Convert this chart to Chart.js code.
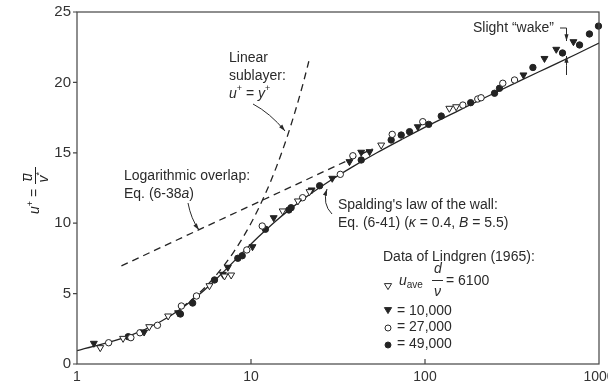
<!DOCTYPE html>
<html>
<head>
<meta charset="utf-8">
<script src="https://cdn.jsdelivr.net/npm/chart.js@4.4.0/dist/chart.umd.min.js"></script>
<style>
    html, body { margin: 0; padding: 0; background: #fff; }
</style>
</head>
<body>
<canvas id="wallChart" width="608" height="387"></canvas>
<script>
// axis ticks
const xTicks = [1, 10, 100, 1000];
const yTicks = [0, 5, 10, 15, 20, 25];

// Spalding's law of the wall (solid)
const spaldingYPlus = [1, 2, 3.01, 4.04, 5.12, 6.27, 7.56, 9.08, 10.97, 13.43, 16.78, 21.5, 28.3, 38.3, 52.9, 74.8, 107, 156, 228, 336, 498, 739, 1000];
const spaldingU = [0.95, 2, 3, 4, 5, 6, 7, 8, 9, 10, 11, 12, 13, 14, 15, 16, 17, 18, 19, 20, 21, 22, 22.8];

// linear sublayer (dashed)
const linearYPlus = [4, 5, 6, 7, 8, 10, 12, 14, 16, 18, 20, 21.5];
const linearU = [4, 5, 6, 7, 8, 10, 12, 14, 16, 18, 20, 21.5];

// logarithmic overlap (dashed)
const logYPlus = [1.8, 50];
const logU = [6.97, 15.28];

// Lindgren (1965) data
const re6100YPlus = [1.36, 1.84, 2.60, 3.34, 5.77, 7.04, 7.69, 15.2, 18.6, 21.7, 56.0, 138, 151];
const re6100U = [1.16, 1.82, 2.65, 3.41, 5.56, 6.25, 6.32, 10.87, 11.58, 12.24, 15.55, 18.16, 18.27];

const re10000YPlus = [1.25, 2.43, 3.81, 6.89, 7.36, 10.2, 13.5, 22.3, 29.3, 36.8, 43.0, 48.0, 90.9, 368, 486, 568, 713];
const re10000U = [1.47, 2.27, 3.64, 6.37, 6.87, 8.33, 10.39, 12.36, 13.19, 14.37, 15.04, 15.08, 16.85, 20.53, 21.70, 22.35, 22.89];

const re27000YPlus = [1.52, 2.04, 2.30, 2.90, 3.98, 4.86, 9.46, 11.6, 19.8, 32.6, 38.5, 64.8, 97.1, 165, 201, 210, 280, 327];
const re27000U = [1.51, 1.87, 2.22, 2.75, 4.12, 4.83, 8.10, 9.80, 11.81, 13.47, 14.79, 16.31, 17.21, 18.39, 18.82, 18.91, 19.94, 20.17];

const re49000YPlus = [1.97, 3.93, 4.62, 6.17, 8.40, 8.90, 12.1, 16.5, 17.0, 24.8, 43.0, 63.9, 73.0, 81.5, 105, 124, 183, 251, 268, 417, 617, 773, 881, 993];
const re49000U = [1.94, 3.55, 4.33, 5.97, 7.51, 7.69, 9.57, 10.94, 11.10, 12.66, 14.49, 15.91, 16.26, 16.50, 17.02, 17.61, 18.56, 19.23, 19.58, 21.06, 22.09, 22.66, 23.44, 24.0];

const INK = '#232323';
const FONT = '"Liberation Sans", Arial, sans-serif';

const toPoints = (xs, ys) => xs.map((x, i) => ({ x: x, y: ys[i] }));

function font(size, italic) {
    return (italic ? 'italic ' : '') + size + 'px ' + FONT;
}

// draws a row of text pieces, some italic, some superscript/subscript
function drawRuns(ctx, x, y, runs) {
    runs.forEach(r => {
        const size = r.size || 14;
        ctx.font = font(size, r.i);
        ctx.fillText(r.t, x, y + (r.dy || 0));
        x += ctx.measureText(r.t).width + (r.gap || 0);
    });
    return x;
}

function drawArrow(ctx, x0, y0, cx, cy, x1, y1) {
    ctx.beginPath();
    ctx.moveTo(x0, y0);
    ctx.quadraticCurveTo(cx, cy, x1, y1);
    ctx.stroke();
    const a = Math.atan2(y1 - cy, x1 - cx);
    const h = 7;
    ctx.beginPath();
    ctx.moveTo(x1, y1);
    ctx.lineTo(x1 - h * Math.cos(a - 0.3), y1 - h * Math.sin(a - 0.3));
    ctx.lineTo(x1 - h * Math.cos(a + 0.3), y1 - h * Math.sin(a + 0.3));
    ctx.closePath();
    ctx.fill();
}

function drawMarker(ctx, kind, x, y) {
    ctx.beginPath();
    if (kind === 'tri') {
        ctx.moveTo(x - 3.6, y - 2.4);
        ctx.lineTo(x + 3.6, y - 2.4);
        ctx.lineTo(x, y + 3.6);
        ctx.closePath();
    } else {
        ctx.arc(x, y, 3, 0, Math.PI * 2);
    }
}

const framePlugin = {
    id: 'frame',
    afterDraw(chart) {
        const ctx = chart.ctx;
        const area = chart.chartArea;
        const xs = chart.scales.x;
        const ys = chart.scales.y;
        ctx.save();
        ctx.strokeStyle = '#444';
        ctx.fillStyle = INK;
        ctx.lineWidth = 1.2;
        ctx.strokeRect(area.left, area.top, area.right - area.left, area.bottom - area.top);

        // tick marks
        ctx.beginPath();
        yTicks.forEach(v => {
            const py = ys.getPixelForValue(v);
            ctx.moveTo(area.left - 4, py);
            ctx.lineTo(area.left, py);
        });
        [10, 100].forEach(v => {
            const px = xs.getPixelForValue(v);
            ctx.moveTo(px, area.bottom);
            ctx.lineTo(px, area.bottom - 5);
        });
        ctx.stroke();

        // y axis title: u+ = u-bar / v*
        ctx.save();
        ctx.translate(39, 214);
        ctx.rotate(-Math.PI / 2);
        ctx.textBaseline = 'alphabetic';
        ctx.textAlign = 'left';
        let x = drawRuns(ctx, 0, 0, [
            { t: 'u', i: true },
            { t: '+', size: 9, dy: -6 },
            { t: ' = ' }
        ]);
        ctx.font = font(14, true);
        ctx.fillText('u', x + 4, -7);
        ctx.lineWidth = 1;
        ctx.strokeStyle = INK;
        ctx.beginPath();
        ctx.moveTo(x + 4, -15.5); ctx.lineTo(x + 11.5, -15.5);
        ctx.moveTo(x + 1, -3.5); ctx.lineTo(x + 18, -3.5);
        ctx.stroke();
        drawRuns(ctx, x + 2.5, 9, [
            { t: 'v', i: true },
            { t: '*', size: 9, dy: -6 }
        ]);
        ctx.restore();

        ctx.fillStyle = '#2a2a2a';
        ctx.strokeStyle = '#2a2a2a';
        ctx.lineWidth = 1;
        ctx.textBaseline = 'middle';
        ctx.textAlign = 'left';

        // linear sublayer label
        drawRuns(ctx, 229, 58, [{ t: 'Linear' }]);
        drawRuns(ctx, 229, 76, [{ t: 'sublayer:' }]);
        drawRuns(ctx, 229, 94, [
            { t: 'u', i: true }, { t: '+', size: 9, dy: -5 },
            { t: ' = ' },
            { t: 'y', i: true }, { t: '+', size: 9, dy: -5 }
        ]);
        drawArrow(ctx, 253, 104, 270, 113, 285, 131);

        // log overlap label
        drawRuns(ctx, 124, 176, [{ t: 'Logarithmic overlap:' }]);
        drawRuns(ctx, 124, 194, [{ t: 'Eq. (6-38' }, { t: 'a', i: true }, { t: ')' }]);
        drawArrow(ctx, 188, 203, 191, 219, 199, 230);

        // Spalding label
        drawRuns(ctx, 338, 205, [{ t: "Spalding's law of the wall:" }]);
        drawRuns(ctx, 338, 223, [
            { t: 'Eq. (6-41) (' }, { t: 'κ', i: true }, { t: ' = 0.4, ' },
            { t: 'B', i: true }, { t: ' = 5.5)' }
        ]);
        drawArrow(ctx, 332, 214, 322, 204, 327, 189);

        // data legend
        drawRuns(ctx, 383, 257, [{ t: 'Data of Lindgren (1965):' }]);
        ctx.lineWidth = 1;
        drawMarker(ctx, 'tri', 388, 286); ctx.fillStyle = '#fff'; ctx.fill(); ctx.stroke();
        drawMarker(ctx, 'tri', 388, 310); ctx.fillStyle = INK; ctx.fill(); ctx.stroke();
        drawMarker(ctx, 'circle', 388, 328); ctx.fillStyle = '#fff'; ctx.fill(); ctx.stroke();
        drawMarker(ctx, 'circle', 388, 345); ctx.fillStyle = INK; ctx.fill(); ctx.stroke();
        ctx.fillStyle = '#2a2a2a';
        drawRuns(ctx, 399, 281, [{ t: 'u', i: true }, { t: 'ave', size: 10, dy: 4 }]);
        ctx.font = font(14, true);
        ctx.fillText('d', 434, 269);
        ctx.fillText('ν', 434, 292);
        ctx.beginPath();
        ctx.moveTo(432, 280.5); ctx.lineTo(443, 280.5);
        ctx.stroke();
        drawRuns(ctx, 446, 281, [{ t: '= 6100' }]);
        drawRuns(ctx, 397, 311, [{ t: '= 10,000' }]);
        drawRuns(ctx, 397, 327, [{ t: '= 27,000' }]);
        drawRuns(ctx, 397, 344, [{ t: '= 49,000' }]);

        // slight wake
        drawRuns(ctx, 473, 28, [{ t: 'Slight \u201cwake\u201d' }]);
        ctx.beginPath();
        ctx.moveTo(560, 28); ctx.lineTo(566.5, 28); ctx.lineTo(566.5, 36);
        ctx.stroke();
        drawArrow(ctx, 566.5, 34, 566.5, 37, 566.5, 41);
        drawArrow(ctx, 566.5, 75, 566.5, 66, 566.5, 56);
        ctx.restore();
    }
};

document.addEventListener('DOMContentLoaded', () => {
    const ctx = document.getElementById('wallChart').getContext('2d');

    const pointSet = (label, xs, ys, style, filled) => ({
        label: label,
        data: toPoints(xs, ys),
        showLine: false,
        pointStyle: style,
        rotation: style === 'triangle' ? 180 : 0,
        pointRadius: style === 'triangle' ? 4 : 3.2,
        pointBorderWidth: 1,
        pointBackgroundColor: filled ? INK : '#fff',
        pointBorderColor: INK,
        clip: false
    });

    const lineSet = (label, xs, ys, dashed) => ({
        label: label,
        data: toPoints(xs, ys),
        showLine: true,
        pointRadius: 0,
        borderColor: INK,
        borderWidth: 1.3,
        borderDash: dashed ? [7, 5] : [],
        cubicInterpolationMode: 'monotone',
        fill: false
    });

    new Chart(ctx, {
        type: 'scatter',
        data: {
            datasets: [
                pointSet('6100', re6100YPlus, re6100U, 'triangle', false),
                pointSet('10,000', re10000YPlus, re10000U, 'triangle', true),
                pointSet('27,000', re27000YPlus, re27000U, 'circle', false),
                pointSet('49,000', re49000YPlus, re49000U, 'circle', true),
                lineSet('Spalding', spaldingYPlus, spaldingU, false),
                lineSet('Linear sublayer', linearYPlus, linearU, true),
                lineSet('Log overlap', logYPlus, logU, true)
            ]
        },
        options: {
            responsive: false,
            animation: false,
            devicePixelRatio: 1,
            layout: { padding: { left: 0, top: 12, right: 9, bottom: 0 } },
            plugins: {
                legend: { display: false },
                tooltip: { enabled: false }
            },
            scales: {
                x: {
                    type: 'logarithmic',
                    min: 1,
                    max: 1000,
                    grid: { display: false, drawTicks: false },
                    border: { display: false },
                    afterBuildTicks: scale => {
                        scale.ticks = xTicks.map(v => ({ value: v }));
                    },
                    afterFit: scale => {
                        scale.height = 23;
                        scale.paddingLeft = 0;
                        scale.paddingRight = 0;
                    },
                    ticks: {
                        autoSkip: false,
                        maxRotation: 0,
                        padding: 5,
                        color: '#333',
                        font: { family: FONT, size: 14 },
                        callback: v => String(v)
                    }
                },
                y: {
                    min: 0,
                    max: 25,
                    grid: { display: false, drawTicks: false },
                    border: { display: false },
                    afterBuildTicks: scale => {
                        scale.ticks = yTicks.map(v => ({ value: v }));
                    },
                    afterFit: scale => {
                        scale.width = 77;
                        scale.paddingTop = 0;
                        scale.paddingBottom = 0;
                    },
                    ticks: {
                        padding: 6,
                        color: '#333',
                        font: { family: FONT, size: 15 }
                    }
                }
            }
        },
        plugins: [framePlugin]
    });
});
</script>
</body>
</html>
